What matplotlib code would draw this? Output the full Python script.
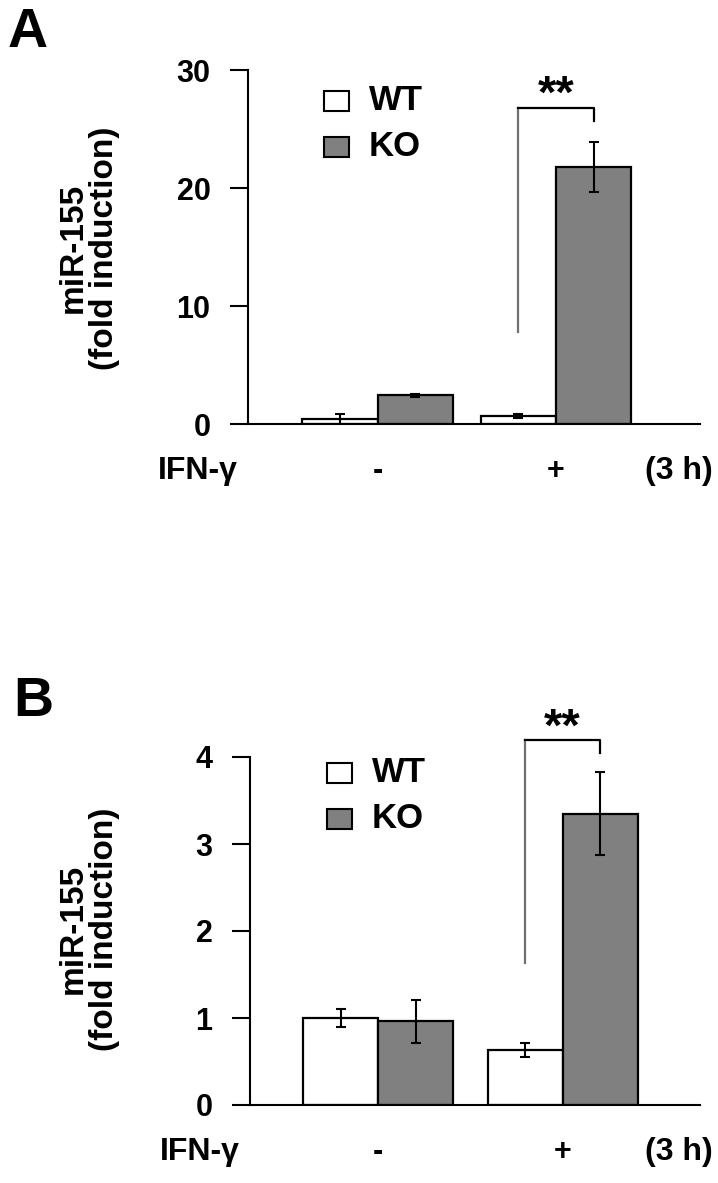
import matplotlib
matplotlib.use('Agg')
import matplotlib.pyplot as plt
from matplotlib.patches import Rectangle

plt.rcParams['font.family'] = ['Liberation Sans', 'DejaVu Sans']
plt.rcParams['font.weight'] = 'bold'

# data
groups = ['-', '+']
series = ['WT', 'KO']
colors = ['white', '#808080']
a_wt = [0.4, 0.68]
a_wt_err = [0.45, 0.2]
a_ko = [2.45, 21.8]
a_ko_err = [0.12, 2.1]
b_wt = [1.0, 0.63]
b_wt_err = [0.1, 0.08]
b_ko = [0.96, 3.35]
b_ko_err = [0.25, 0.48]
a_ticks = [0, 10, 20, 30]
b_ticks = [0, 1, 2, 3, 4]

W, H = 718, 1183
fig = plt.figure(figsize=(W / 100, H / 100), dpi=100)


def fx(x):
    return x / W


def fy(y):
    return 1 - y / H


def panel(rect, wt, wt_err, ko, ko_err, ticks, centers, letter, letter_xy,
          legend_xy, bracket, star_y, label_y):
    ax = fig.add_axes(rect)
    ymax = ticks[-1]
    for i, c in enumerate(centers):
        ax.bar(c - 0.5, wt[i], width=1, color=colors[0], edgecolor='black', linewidth=1.6)
        ax.bar(c + 0.5, ko[i], width=1, color=colors[1], edgecolor='black', linewidth=1.6)
        ax.errorbar(c - 0.5, wt[i], yerr=wt_err[i], color='black', capsize=3.5,
                    elinewidth=1.5, capthick=1.5, fmt='none')
        ax.errorbar(c + 0.5, ko[i], yerr=ko_err[i], color='black', capsize=3.5,
                    elinewidth=1.5, capthick=1.5, fmt='none')
    ax.set_xlim(0, 6)
    ax.set_ylim(0, ymax)
    ax.set_yticks(ticks)
    ax.set_yticklabels([str(t) for t in ticks], fontsize=22, fontweight='bold')
    ax.tick_params(axis='y', length=13, width=1.5, pad=14)
    ax.set_xticks([])
    for s in ['top', 'right']:
        ax.spines[s].set_visible(False)
    ax.spines['left'].set_linewidth(1.5)
    ax.spines['bottom'].set_linewidth(1.5)

    # significance bracket
    x1 = centers[1] - 0.5
    x2 = centers[1] + 0.5
    low, top, right_low = bracket
    ax.plot([x1, x1], [low, top], color='#707070', lw=1.6, clip_on=False)
    ax.plot([x1, x2, x2], [top, top, right_low], color='black', lw=1.6, clip_on=False)
    ax.text((x1 + x2) / 2, star_y, '**', ha='center', va='center', fontsize=34,
            fontweight='bold', clip_on=False)

    # x labels
    for g, c in zip(groups, centers):
        ax.annotate(g, xy=(c, 0), xycoords=('data', 'axes fraction'),
                    xytext=(0, -34), textcoords='offset points',
                    ha='center', va='center', fontsize=22, fontweight='bold')
    ax.annotate('IFN-γ', xy=(0, 0), xycoords='axes fraction', xytext=(-36, -34),
                textcoords='offset points', ha='center', va='center',
                fontsize=23, fontweight='bold')
    ax.annotate('(3 h)', xy=(5.72, 0), xycoords=('data', 'axes fraction'),
                xytext=(0, -34), textcoords='offset points',
                ha='center', va='center', fontsize=23, fontweight='bold')

    # y label
    fig.text(fx(89), fy(label_y), 'miR-155\n(fold induction)', rotation=90,
             ha='center', va='center', fontsize=24, fontweight='bold',
             linespacing=1.0, multialignment='center')

    # panel letter
    fig.text(fx(letter_xy[0]), fy(letter_xy[1]), letter, ha='left', va='center',
             fontsize=40, fontweight='bold')

    # legend
    lx, ly = legend_xy
    for k, (name, col) in enumerate(zip(series, colors)):
        yc = ly + k * 46
        fig.patches.append(Rectangle((fx(lx), fy(yc + 10)), 25 / W, 20 / H,
                                     transform=fig.transFigure, facecolor=col,
                                     edgecolor='black', linewidth=1.5))
        fig.text(fx(lx + 45), fy(yc), name, ha='left', va='center',
                 fontsize=25, fontweight='bold')
    return ax


panel([fx(248), fy(424), 452 / W, 354 / H], a_wt, a_wt_err, a_ko, a_ko_err,
      a_ticks, [1.72, 4.09], 'A', (8, 33), (324, 101), (7.8, 26.8, 25.7), 27.8, 248)
panel([fx(250), fy(1105), 450 / W, 348 / H], b_wt, b_wt_err, b_ko, b_ko_err,
      b_ticks, [1.71, 4.17], 'B', (13, 702), (327, 773), (1.63, 4.19, 4.05), 4.32, 929)

fig.savefig('out.png', dpi=100)
